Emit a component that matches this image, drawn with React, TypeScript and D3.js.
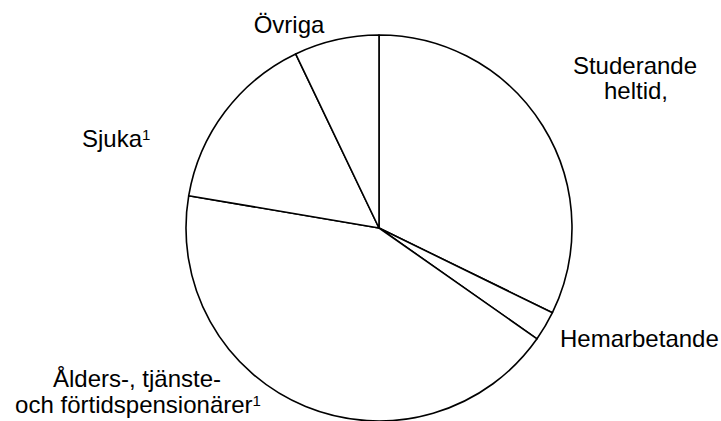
import React from "react";
import * as d3 from "d3";

const categories = [
  "Studerande heltid",
  "Hemarbetande",
  "Ålders-, tjänste- och förtidspensionärer",
  "Sjuka",
  "Övriga",
];
const values = [32.2, 2.5, 42.9, 15.2, 7.1];

const W = 721;
const H = 421;
const cx = 379;
const cy = 228;
const R = 193;
const FONT = "'Liberation Sans', Arial, sans-serif";

export default function App() {
  const pie = d3
    .pie<number>()
    .sort(null)
    .value((d) => d)
    .startAngle(0)
    .endAngle(2 * Math.PI);
  const arcs = pie(values);
  const arcGen = d3.arc<d3.PieArcDatum<number>>().innerRadius(0).outerRadius(R);

  const textStyle: React.CSSProperties = { fontFamily: FONT, fontSize: 24, fill: "#000" };

  return (
    <svg
      width={W}
      height={H}
      style={{ position: "absolute", left: 0, top: 0, background: "#fff" }}
    >
      <rect x={0} y={0} width={W} height={H} fill="#fff" />
      <g transform={`translate(${cx},${cy})`}>
        {arcs.map((a, i) => (
          <path
            key={categories[i]}
            d={arcGen(a) || ""}
            fill="#fff"
            stroke="#000"
            strokeWidth={1.6}
            strokeLinejoin="round"
          />
        ))}
      </g>
      <g style={textStyle}>
        <text x={289} y={33} textAnchor="middle">Övriga</text>
        <text x={635} y={74} textAnchor="middle">Studerande</text>
        <text x={636} y={99} textAnchor="middle">heltid,</text>
        <text x={560} y={347}>Hemarbetande</text>
        <text x={82} y={146.5}>
          Sjuka
          <tspan fontSize={15} dy={-7}>1</tspan>
        </text>
        <text x={137} y={387} textAnchor="middle">Ålders-, tjänste-</text>
        <text x={138} y={413} textAnchor="middle">
          och förtidspensionärer
          <tspan fontSize={15} dy={-7}>1</tspan>
        </text>
      </g>
    </svg>
  );
}
